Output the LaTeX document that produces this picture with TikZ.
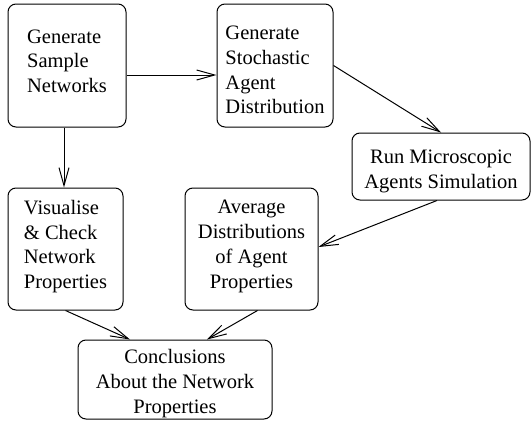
\documentclass[tikz,border=0pt]{standalone}
\usepackage{fontspec}
\setmainfont{Liberation Serif}
\newfontfamily\boxfont{Liberation Serif}
\usetikzlibrary{arrows.meta}
\begin{document}
\begin{tikzpicture}[x=1pt,y=-1pt,
  box/.style={draw, line width=1pt, rounded corners=8pt, inner sep=0pt,
    font=\boxfont\fontsize{20.5}{24.7}\selectfont},
  link/.style={line width=1pt, -{Straight Barb[length=18pt,width=10pt,line width=1pt]}}]
\useasboundingbox (0,0) rectangle (531,423);
\node[box, align=left, minimum width=118pt, minimum height=123pt] (A) at (67,65.5)
  {Generate\\Sample\\Networks\rule[-9pt]{0pt}{9pt}};
\node[box, align=left, minimum width=116pt, minimum height=123pt] (B) at (275,65.5)
  {\rule{0pt}{22.9pt}Generate\\Stochastic\\Agent\\Distribution};
\node[box, align=center, minimum width=178pt, minimum height=67pt] (C) at (441,166.5)
  {\rule{0pt}{23.6pt}Run Microscopic\\Agents Simulation};
\node[box, align=left, minimum width=115pt, minimum height=122pt] (D) at (65.5,249)
  {Visualise\\\& Check\\Network\\Properties\rule[-9.5pt]{0pt}{9.5pt}};
\node[box, align=center, minimum width=133pt, minimum height=122pt] (E) at (251.5,249)
  {Average\\Distributions\\of Agent\\Properties\rule[-9.5pt]{0pt}{9.5pt}};
\node[box, align=center, minimum width=194pt, minimum height=79pt] (F) at (175,379.5)
  {\rule{0pt}{22pt}Conclusions\\About the Network\\Properties};
\draw[link] ([yshift=-9.5pt]A.east) -- ([yshift=-9.5pt]B.west);
\draw[link] ([xshift=-3pt]A.south) -- ([xshift=-1.5pt]D.north);
\draw[link] (B.east) -- (C.north);
\draw[link] ([xshift=-4pt]C.south) -- ([yshift=2pt]E.east);
\draw[link] (D.south) -- ([xshift=-45pt]F.north);
\draw[link] ([xshift=6pt]E.south) -- ([xshift=32pt]F.north);
\end{tikzpicture}
\end{document}
